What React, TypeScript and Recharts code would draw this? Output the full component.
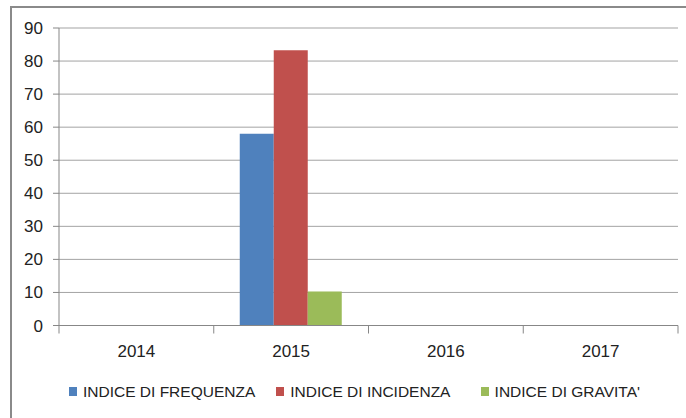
import React from 'react';
import { BarChart, Bar, XAxis, YAxis, CartesianGrid, Legend } from 'recharts';

const categories = ['2014', '2015', '2016', '2017'];
const indiceFrequenza = [0, 58, 0, 0];
const indiceIncidenza = [0, 83.3, 0, 0];
const indiceGravita = [0, 10.3, 0, 0];
const yTicks = [0, 10, 20, 30, 40, 50, 60, 70, 80, 90];

const seriesNames = ['INDICE DI FREQUENZA', 'INDICE DI INCIDENZA', "INDICE DI GRAVITA'"];
const seriesColors = ['#4F81BD', '#C0504D', '#9BBB59'];

const data = categories.map((c, i) => ({
  year: c,
  f: indiceFrequenza[i],
  inc: indiceIncidenza[i],
  g: indiceGravita[i],
}));

const FONT = '"Liberation Sans", Arial, sans-serif';
const AXIS = '#878787';
const TEXT = '#222';
const TICK_SIZE = 8;
const TICK_MARGIN = 11;

const XTick = (props: any) => {
  const { x, y, payload, index } = props;
  const off = payload && payload.offset != null ? payload.offset : 77.4;
  const axisY = y - TICK_SIZE - TICK_MARGIN;
  return (
    <g>
      <line x1={x - off} x2={x - off} y1={axisY} y2={axisY + TICK_SIZE} stroke={AXIS} strokeWidth={1} />
      {index === categories.length - 1 && (
        <line x1={x + off} x2={x + off} y1={axisY} y2={axisY + TICK_SIZE} stroke={AXIS} strokeWidth={1} />
      )}
      <text x={x} y={y} dy="0.71em" textAnchor="middle" fill={TEXT} fontSize={17} fontFamily={FONT}>
        {payload.value}
      </text>
    </g>
  );
};

const itemWidths = [210, 207, 200];

const LegendContent = () => (
  <div style={{ display: 'flex', paddingLeft: 69, height: 24, alignItems: 'center', fontFamily: FONT }}>
    {seriesNames.map((n, i) => (
      <div key={n} style={{ display: 'flex', alignItems: 'center', width: itemWidths[i] }}>
        <span style={{ display: 'inline-block', width: 8, height: 9, background: seriesColors[i], marginRight: 6 }} />
        <span style={{ fontSize: 15.5, color: TEXT, whiteSpace: 'nowrap' }}>{n}</span>
      </div>
    ))}
  </div>
);

export default function App() {
  return (
    <div style={{ position: 'absolute', left: 0, top: 0, width: 686, height: 418, overflow: 'hidden', background: '#fff' }}>
      <div
        style={{
          position: 'absolute',
          left: 10,
          top: 6,
          width: 800,
          height: 600,
          borderTop: '2px solid #8a8a8a',
          borderLeft: '2px solid #8a8a8a',
        }}
      />
      <div style={{ position: 'absolute', left: 0, top: 0 }}>
        <BarChart
          width={686}
          height={418}
          data={data}
          margin={{ top: 28, right: 8, left: 0, bottom: 14.5 }}
          barCategoryGap={26}
          barGap={0}
        >
          <CartesianGrid vertical={false} stroke="#a3a3a3" strokeWidth={1} />
          <XAxis
            dataKey="year"
            height={54}
            axisLine={{ stroke: AXIS }}
            tickLine={false}
            tickSize={TICK_SIZE}
            tickMargin={TICK_MARGIN}
            tick={<XTick />}
            interval={0}
          />
          <YAxis
            width={59}
            domain={[0, 90]}
            ticks={yTicks}
            interval={0}
            axisLine={{ stroke: AXIS }}
            tickLine={{ stroke: AXIS }}
            tickSize={6}
            tickMargin={10}
            tick={{ fill: TEXT, fontSize: 17, fontFamily: FONT }}
          />
          <Legend verticalAlign="bottom" height={24} content={<LegendContent />} />
          <Bar dataKey="f" name={seriesNames[0]} fill={seriesColors[0]} isAnimationActive={false} />
          <Bar dataKey="inc" name={seriesNames[1]} fill={seriesColors[1]} isAnimationActive={false} />
          <Bar dataKey="g" name={seriesNames[2]} fill={seriesColors[2]} isAnimationActive={false} />
        </BarChart>
      </div>
    </div>
  );
}
